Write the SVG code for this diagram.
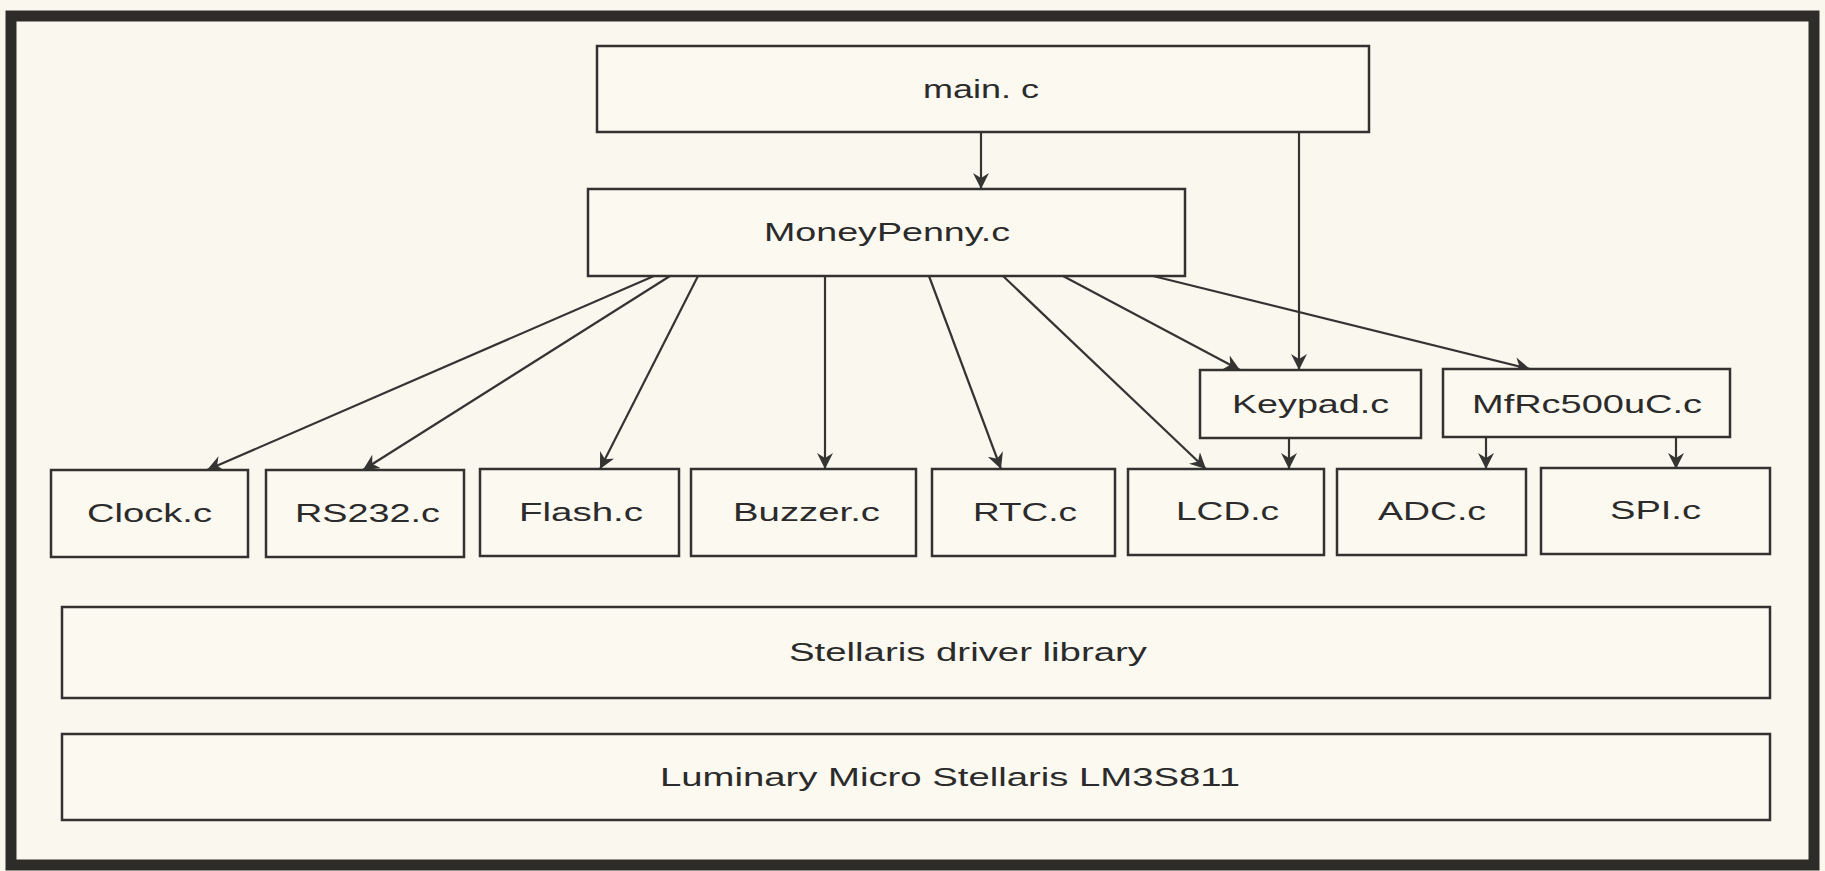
<svg xmlns="http://www.w3.org/2000/svg" width="1825" height="871" viewBox="0 0 1825 871">
<style>
.bg{fill:#faf8ee}
.frame{fill:none;stroke:#2e2c28;stroke-width:11}
.box{fill:#fbf9f0;stroke:#333230;stroke-width:2.5}
.lbl{font-family:"Liberation Sans",Arial,sans-serif;font-size:25px;fill:#2b2b2b}
.c{fill:none;stroke:#353433;stroke-width:2.2}
</style>
<defs>
<marker id="ah" markerUnits="userSpaceOnUse" markerWidth="18" markerHeight="16" refX="16" refY="8" orient="auto">
<path d="M0,0 L16,8 L0,16 L5,8 Z" fill="#353433"/>
</marker>
</defs>
<rect class="bg" x="0" y="0" width="1825" height="871"/>
<rect class="frame" x="11" y="16" width="1803" height="849"/>

<g id="connectors">
<line class="c" x1="981" y1="132" x2="981" y2="189" marker-end="url(#ah)"/>
<line class="c" x1="1299" y1="132" x2="1299" y2="370" marker-end="url(#ah)"/>
<line class="c" x1="654" y1="276" x2="207" y2="470" marker-end="url(#ah)"/>
<line class="c" x1="670" y1="276" x2="363" y2="470" marker-end="url(#ah)"/>
<line class="c" x1="698" y1="276" x2="600" y2="469" marker-end="url(#ah)"/>
<line class="c" x1="825" y1="276" x2="825" y2="469" marker-end="url(#ah)"/>
<line class="c" x1="929" y1="276" x2="1001" y2="469" marker-end="url(#ah)"/>
<line class="c" x1="1003" y1="276" x2="1206" y2="469" marker-end="url(#ah)"/>
<line class="c" x1="1063" y1="276" x2="1240" y2="370" marker-end="url(#ah)"/>
<line class="c" x1="1153" y1="276" x2="1530" y2="369" marker-end="url(#ah)"/>
<line class="c" x1="1289" y1="438" x2="1289" y2="469" marker-end="url(#ah)"/>
<line class="c" x1="1486" y1="437" x2="1486" y2="469" marker-end="url(#ah)"/>
<line class="c" x1="1676" y1="437" x2="1676" y2="469" marker-end="url(#ah)"/>
</g>

<g id="main">
<rect class="box" x="597" y="46" width="772" height="86"/>
<text class="lbl" x="923" y="98" textLength="116" lengthAdjust="spacingAndGlyphs">main. c</text>
</g>
<g id="moneypenny">
<rect class="box" x="588" y="189" width="597" height="87"/>
<text class="lbl" x="764" y="241" textLength="246" lengthAdjust="spacingAndGlyphs">MoneyPenny.c</text>
</g>
<g id="keypad">
<rect class="box" x="1200" y="370" width="221" height="68"/>
<text class="lbl" x="1232" y="413" textLength="157" lengthAdjust="spacingAndGlyphs">Keypad.c</text>
</g>
<g id="mfrc">
<rect class="box" x="1443" y="369" width="287" height="68"/>
<text class="lbl" x="1472" y="413" textLength="230" lengthAdjust="spacingAndGlyphs">MfRc500uC.c</text>
</g>
<g id="clock">
<rect class="box" x="51" y="470" width="197" height="87"/>
<text class="lbl" x="87" y="522" textLength="125" lengthAdjust="spacingAndGlyphs">Clock.c</text>
</g>
<g id="rs232">
<rect class="box" x="266" y="470" width="198" height="87"/>
<text class="lbl" x="295" y="522" textLength="145" lengthAdjust="spacingAndGlyphs">RS232.c</text>
</g>
<g id="flash">
<rect class="box" x="480" y="469" width="199" height="87"/>
<text class="lbl" x="519" y="521" textLength="124" lengthAdjust="spacingAndGlyphs">Flash.c</text>
</g>
<g id="buzzer">
<rect class="box" x="691" y="469" width="225" height="87"/>
<text class="lbl" x="733" y="521" textLength="147" lengthAdjust="spacingAndGlyphs">Buzzer.c</text>
</g>
<g id="rtc">
<rect class="box" x="932" y="469" width="183" height="87"/>
<text class="lbl" x="973" y="521" textLength="104" lengthAdjust="spacingAndGlyphs">RTC.c</text>
</g>
<g id="lcd">
<rect class="box" x="1128" y="469" width="196" height="86"/>
<text class="lbl" x="1176" y="520" textLength="103" lengthAdjust="spacingAndGlyphs">LCD.c</text>
</g>
<g id="adc">
<rect class="box" x="1337" y="469" width="189" height="86"/>
<text class="lbl" x="1378" y="520" textLength="108" lengthAdjust="spacingAndGlyphs">ADC.c</text>
</g>
<g id="spi">
<rect class="box" x="1541" y="468" width="229" height="86"/>
<text class="lbl" x="1610" y="519" textLength="91" lengthAdjust="spacingAndGlyphs">SPI.c</text>
</g>
<g id="driverlib">
<rect class="box" x="62" y="607" width="1708" height="91"/>
<text class="lbl" x="789" y="661" textLength="358" lengthAdjust="spacingAndGlyphs">Stellaris driver library</text>
</g>
<g id="lm3s811">
<rect class="box" x="62" y="734" width="1708" height="86"/>
<text class="lbl" x="660" y="786" textLength="580" lengthAdjust="spacingAndGlyphs">Luminary Micro Stellaris LM3S811</text>
</g>
</svg>
